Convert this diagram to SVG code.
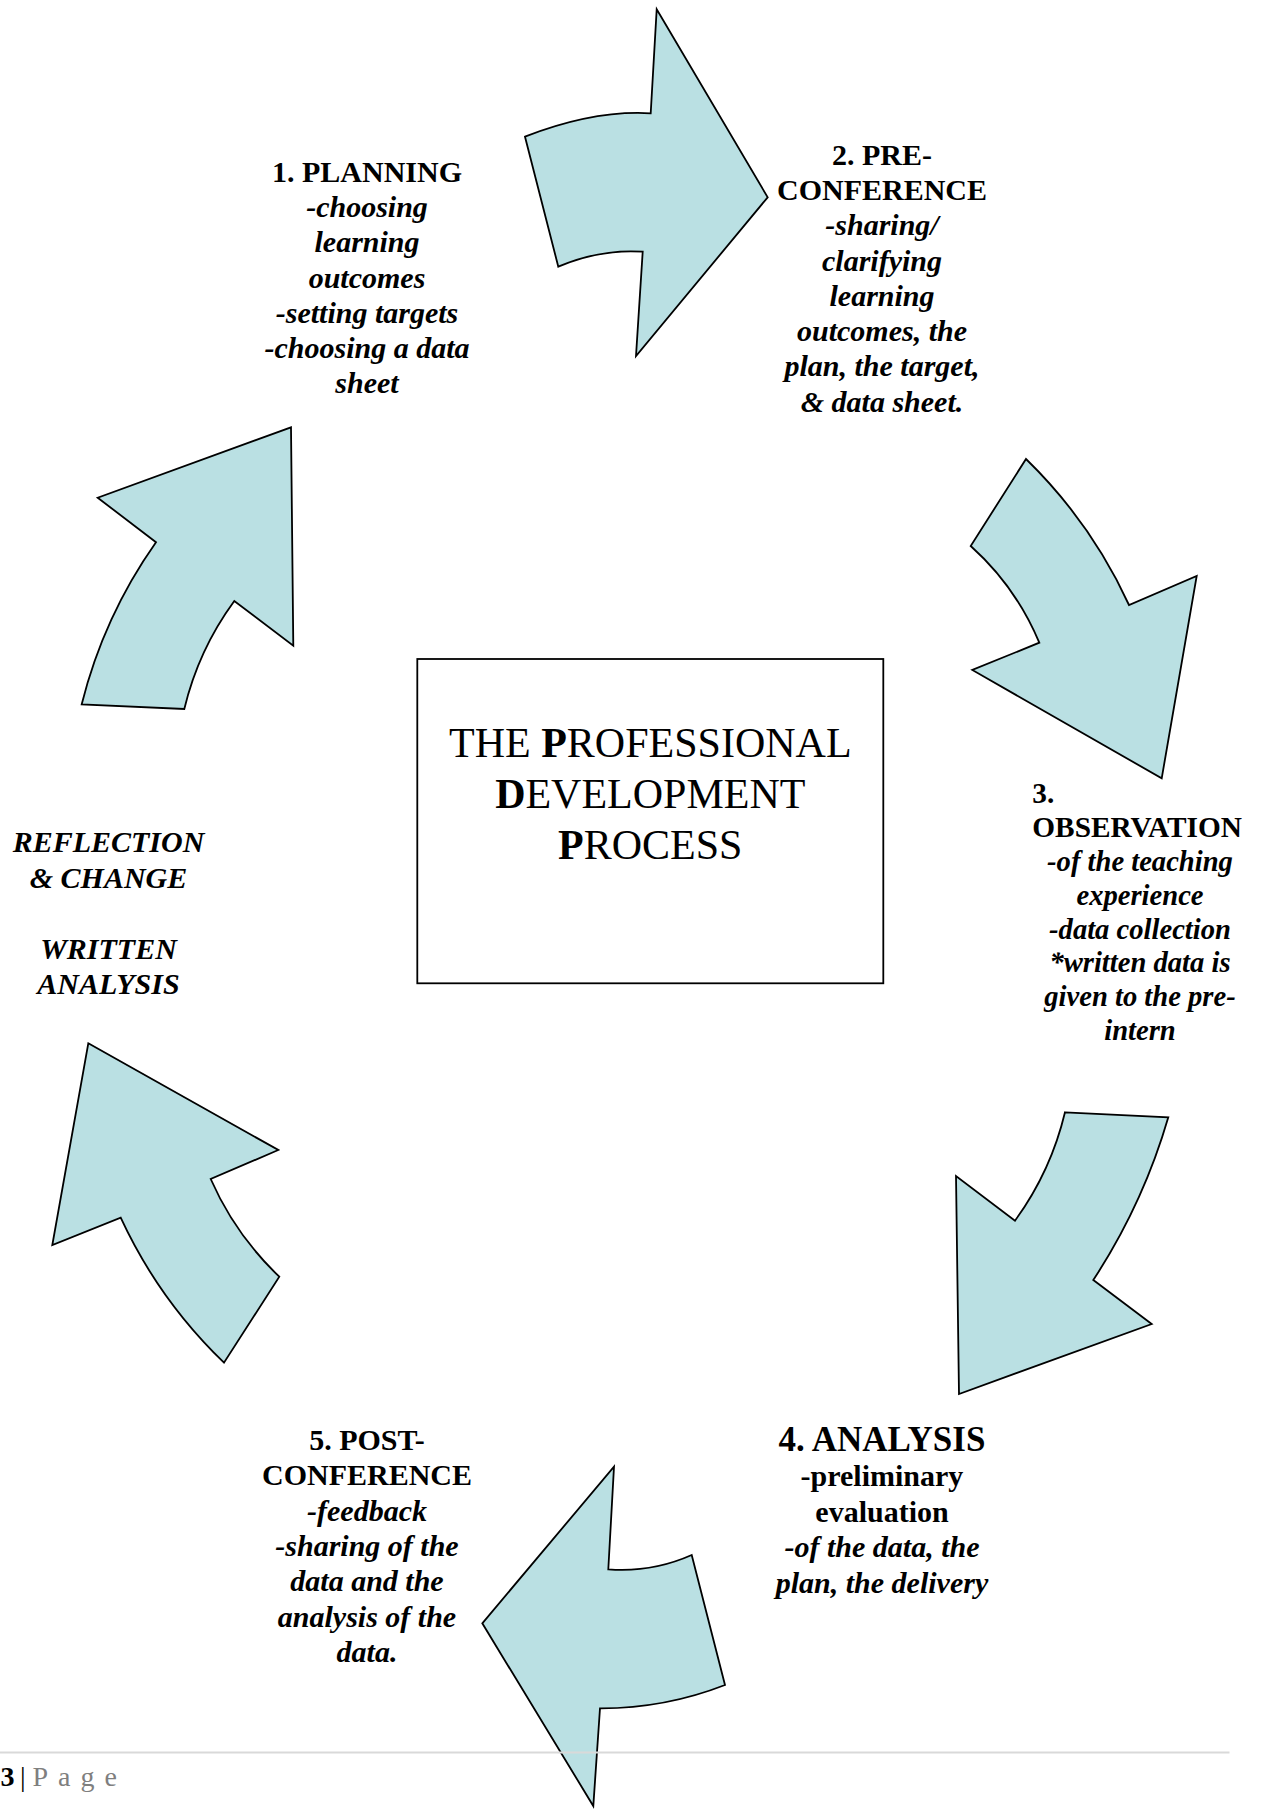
<svg xmlns="http://www.w3.org/2000/svg" width="1262" height="1809" viewBox="0 0 1262 1809">
  <style>
    .arrow { fill: #bae0e3; stroke: #000; stroke-width: 1.8; stroke-linejoin: miter; }
    .lbl { font-family: "Liberation Serif", "Times New Roman", serif; font-size: 30px; font-weight: bold; text-anchor: middle; fill: #000; }
    .it { font-style: italic; }
    .small { font-size: 28.6px; }
    .title { font-family: "Liberation Serif", "Times New Roman", serif; font-size: 42px; text-anchor: middle; fill: #000; }
    .b { font-weight: bold; }
    .foot { font-family: "Liberation Serif", "Times New Roman", serif; font-size: 28px; }
  </style>
  <rect width="1262" height="1809" fill="#fff"/>

  <!-- curved block arrows forming the cycle -->
  <g id="connectors">
    <path id="arrow-1-2" class="arrow" d="M 525,136.7 Q 593.3,110 650.7,113.3 L 656.7,9.3 L 767.7,197.3 L 636,356 L 642.7,251.7 Q 600.2,248.8 558.3,266.7 Z"/>
    <path id="arrow-2-3" class="arrow" d="M 1026,459 Q 1091.1,522.4 1129,605 L 1196.7,576 L 1161.7,778.3 L 972.3,670 L 1039.3,642.7 Q 1015.9,586.6 970.7,546 Z"/>
    <path id="arrow-3-4" class="arrow" d="M 1065,1112.3 L 1168.3,1117.3 Q 1143,1204.3 1093.3,1280 L 1151.7,1324 L 959,1394 L 956,1176 L 1015,1220.7 Q 1050.9,1171.5 1065,1112.3 Z"/>
    <path id="arrow-4-5" class="arrow" d="M 614,1466.7 L 608.3,1569.3 Q 651.8,1572.7 691.7,1555 L 725,1685 Q 664.7,1708.5 600,1708.3 L 593.3,1806 L 482.3,1623.3 Z"/>
    <path id="arrow-5-r" class="arrow" d="M 88.3,1043.3 L 278.3,1150 L 210.7,1179 Q 235.2,1234.7 279.3,1276.7 L 224,1362.7 Q 158.75,1299.8 120.7,1217.7 L 52.3,1245 Z"/>
    <path id="arrow-r-1" class="arrow" d="M 291,427.3 L 293.3,645.7 L 234.3,601 Q 198.4,650 184.3,709 L 81.7,704.3 Q 103.7,616.4 156,542.3 L 97.7,497.7 Z"/>
  </g>

  <!-- central title box -->
  <g id="center">
    <rect x="417.3" y="659" width="466" height="324.3" fill="#fff" stroke="#000" stroke-width="1.8"/>
    <text class="title" x="650.3" y="757"><tspan>THE </tspan><tspan class="b">P</tspan><tspan>ROFESSIONAL</tspan></text>
    <text class="title" x="650.3" y="807.5"><tspan class="b">D</tspan><tspan>EVELOPMENT</tspan></text>
    <text class="title" x="650.3" y="858.5"><tspan class="b">P</tspan><tspan>ROCESS</tspan></text>
  </g>

  <g id="step-1">
    <text class="lbl" x="367" y="182">1. PLANNING</text>
    <text class="lbl it" x="367" y="217.2">-choosing</text>
    <text class="lbl it" x="367" y="252.4">learning</text>
    <text class="lbl it" x="367" y="287.6">outcomes</text>
    <text class="lbl it" x="367" y="322.8">-setting targets</text>
    <text class="lbl it" x="367" y="358">-choosing a data</text>
    <text class="lbl it" x="367" y="393.2">sheet</text>
  </g>

  <g id="step-2">
    <text class="lbl" x="882" y="164.6">2. PRE-</text>
    <text class="lbl" x="882" y="199.9">CONFERENCE</text>
    <text class="lbl it" x="882" y="235.2">-sharing/</text>
    <text class="lbl it" x="882" y="270.5">clarifying</text>
    <text class="lbl it" x="882" y="305.8">learning</text>
    <text class="lbl it" x="882" y="341.1">outcomes, the</text>
    <text class="lbl it" x="882" y="376.4">plan, the target,</text>
    <text class="lbl it" x="882" y="411.7">&amp; data sheet.</text>
  </g>

  <g id="step-3">
    <text class="lbl" x="1032.3" y="803.3" style="text-anchor:start;font-size:29.3px">3.</text>
    <text class="lbl" x="1032.3" y="837.1" style="text-anchor:start;font-size:29.3px">OBSERVATION</text>
    <text class="lbl small it" x="1140" y="870.9">-of the teaching</text>
    <text class="lbl small it" x="1140" y="904.7">experience</text>
    <text class="lbl small it" x="1140" y="938.5">-data collection</text>
    <text class="lbl small it" x="1140" y="972.3">*written data is</text>
    <text class="lbl small it" x="1140" y="1006.1">given to the pre-</text>
    <text class="lbl small it" x="1140" y="1039.9">intern</text>
  </g>

  <g id="step-4">
    <text class="lbl" x="882" y="1451" style="font-size:35px">4. ANALYSIS</text>
    <text class="lbl" x="882" y="1486">-preliminary</text>
    <text class="lbl" x="882" y="1521.5">evaluation</text>
    <text class="lbl it" x="882" y="1557">-of the data, the</text>
    <text class="lbl it" x="882" y="1592.5">plan, the delivery</text>
  </g>

  <g id="step-5">
    <text class="lbl" x="367" y="1449.7">5. POST-</text>
    <text class="lbl" x="367" y="1485.1">CONFERENCE</text>
    <text class="lbl it" x="367" y="1520.5">-feedback</text>
    <text class="lbl it" x="367" y="1555.9">-sharing of the</text>
    <text class="lbl it" x="367" y="1591.3">data and the</text>
    <text class="lbl it" x="367" y="1626.7">analysis of the</text>
    <text class="lbl it" x="367" y="1662.1">data.</text>
  </g>

  <g id="reflection">
    <text class="lbl it" x="108.5" y="852">REFLECTION</text>
    <text class="lbl it" x="108.5" y="887.5">&amp; CHANGE</text>
    <text class="lbl it" x="108.5" y="958.5">WRITTEN</text>
    <text class="lbl it" x="108.5" y="994">ANALYSIS</text>
  </g>

  <!-- page footer -->
  <g id="footer">
    <line x1="0" y1="1752.5" x2="1229.5" y2="1752.5" stroke="#d9d9d9" stroke-width="2"/>
    <text class="foot" y="1786"><tspan x="0.5" font-weight="bold" fill="#000">3</tspan><tspan x="20" fill="#000">|</tspan><tspan x="32.5" fill="#7f7f7f" letter-spacing="10">Page</tspan></text>
  </g>
</svg>
